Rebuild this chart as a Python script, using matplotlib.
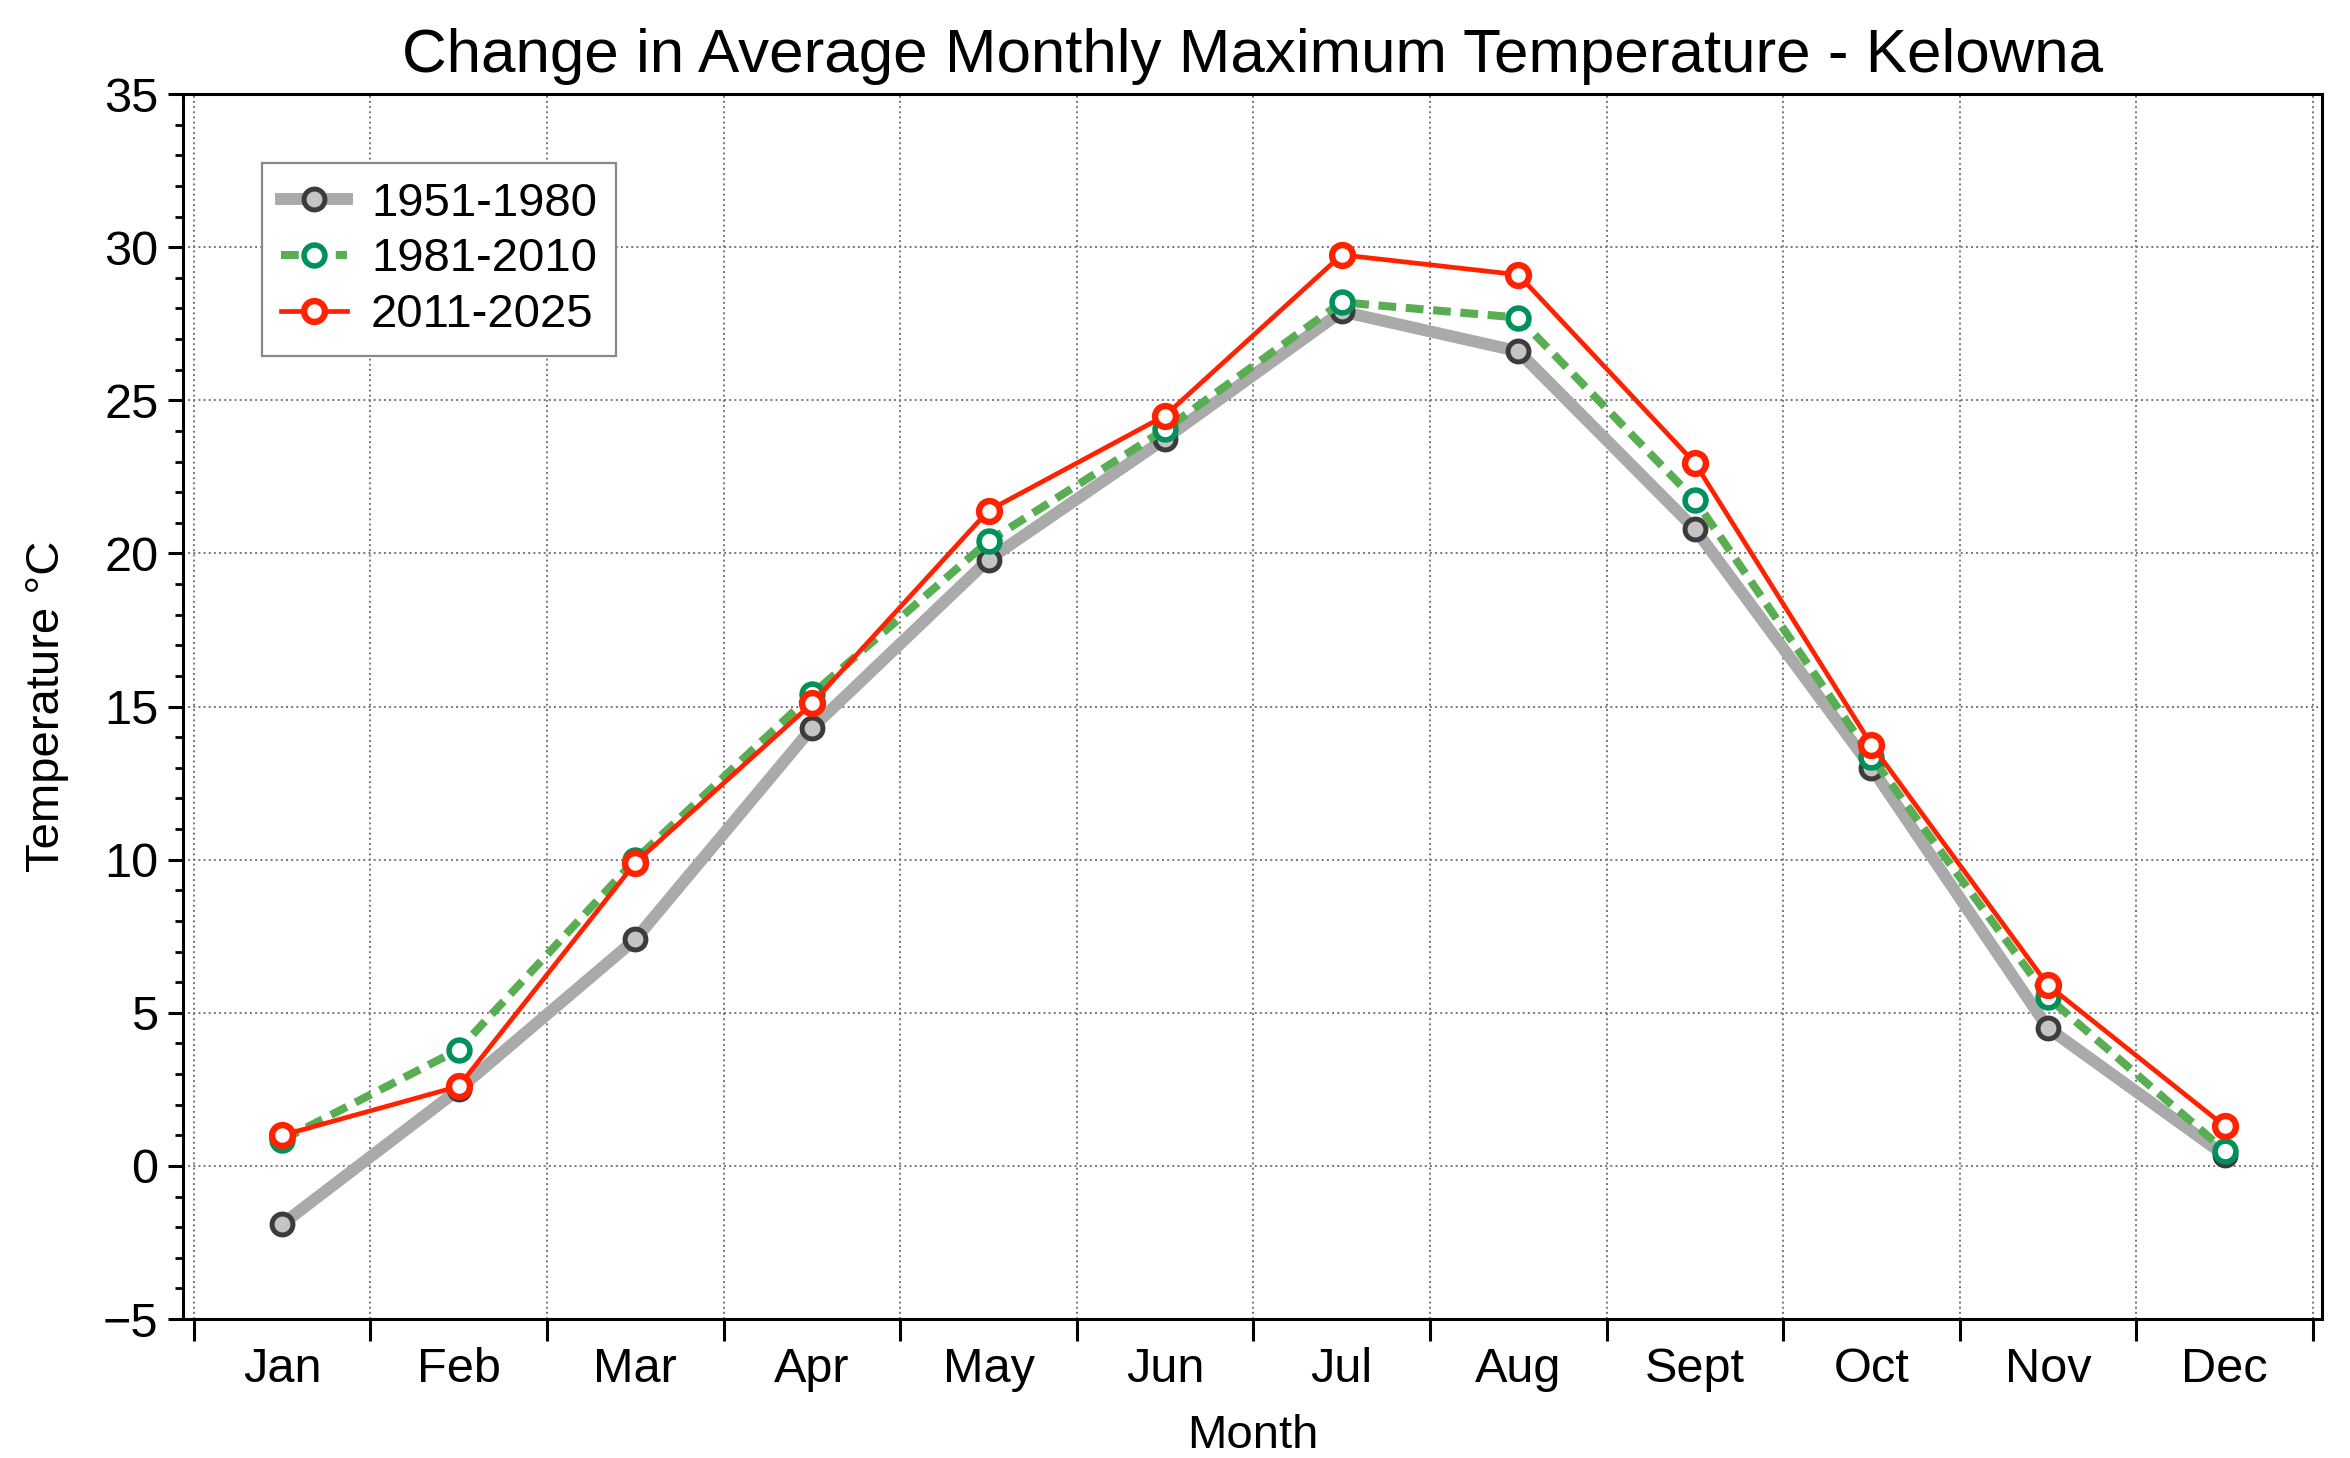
import numpy as np
import matplotlib
matplotlib.use("Agg")
import matplotlib.pyplot as plt
from matplotlib.ticker import MultipleLocator, FixedLocator, NullFormatter

plt.rcParams['font.family'] = ['Liberation Sans', 'DejaVu Sans']

# data
months = ['Jan', 'Feb', 'Mar', 'Apr', 'May', 'Jun', 'Jul', 'Aug', 'Sept', 'Oct', 'Nov', 'Dec']
t_1951_1980 = [-1.9, 2.5, 7.4, 14.3, 19.8, 23.75, 27.9, 26.6, 20.8, 13.0, 4.5, 0.35]
t_1981_2010 = [0.85, 3.8, 10.0, 15.4, 20.4, 24.05, 28.2, 27.7, 21.75, 13.35, 5.5, 0.5]
t_2011_2025 = [1.0, 2.6, 9.9, 15.1, 21.4, 24.5, 29.75, 29.1, 22.95, 13.75, 5.9, 1.3]

x = np.arange(1, len(months) + 1)

fig, ax = plt.subplots(figsize=(11.75, 7.29), dpi=200)
fig.subplots_adjust(left=0.078, right=0.988, top=0.9355, bottom=0.0953)

# Plot lines
ax.plot(x, t_1951_1980, '-o', color='#aaaaaa', lw=4.3, ms=7.5,
        mfc='#c4c4c4', mec='#3c3c3c', mew=1.8, label='1951-1980', zorder=3)
ax.plot(x, t_1981_2010, '--o', color='#59ad52', lw=2.9, ms=7.5,
        mfc='white', mec='#00915a', mew=2.0, label='1981-2010', zorder=4,
        dashes=(2.2, 1.2))
ax.plot(x, t_2011_2025, '-o', color='#ff2200', lw=1.7, ms=7.5,
        mfc='white', mec='#ff2200', mew=2.3, label='2011-2025', zorder=5)

# Axes limits and ticks
ax.set_xlim(0.44, 12.55)
ax.set_ylim(-5, 35)
ax.xaxis.set_major_locator(FixedLocator(np.arange(0.5, 13.0, 1.0)))
ax.xaxis.set_major_formatter(NullFormatter())
ax.xaxis.set_minor_locator(FixedLocator(x))
ax.set_xticklabels(months, minor=True)
ax.tick_params(axis='x', which='major', direction='out', length=8, width=1.1)
ax.tick_params(axis='x', which='minor', length=0, pad=10, labelsize=17.5)
ax.yaxis.set_major_locator(MultipleLocator(5))
ax.yaxis.set_minor_locator(MultipleLocator(1))
ax.tick_params(axis='y', which='major', direction='out', length=5.5, width=1.1, labelsize=17.5)
ax.tick_params(axis='y', which='minor', direction='out', length=3, width=1.0)

for sp in ax.spines.values():
    sp.set_linewidth(1.1)

# Grid
ax.grid(True, which='major', linestyle=':', color='#777777', lw=0.7)

# Labels and title
ax.set_title('Change in Average Monthly Maximum Temperature - Kelowna', fontsize=22.3, pad=8)
ax.set_xlabel('Month', fontsize=17, labelpad=8)
ax.set_ylabel('Temperature \u00b0C', fontsize=17, labelpad=12)

# Legend
leg = ax.legend(loc='upper left', bbox_to_anchor=(0.037, 0.944), borderaxespad=0,
                fontsize=17, fancybox=False, framealpha=1, edgecolor='#888888',
                handlelength=1.4, handletextpad=0.5, borderpad=0.4, labelspacing=0.25)
leg.get_frame().set_linewidth(0.8)

plt.savefig('out.png', dpi=200)
